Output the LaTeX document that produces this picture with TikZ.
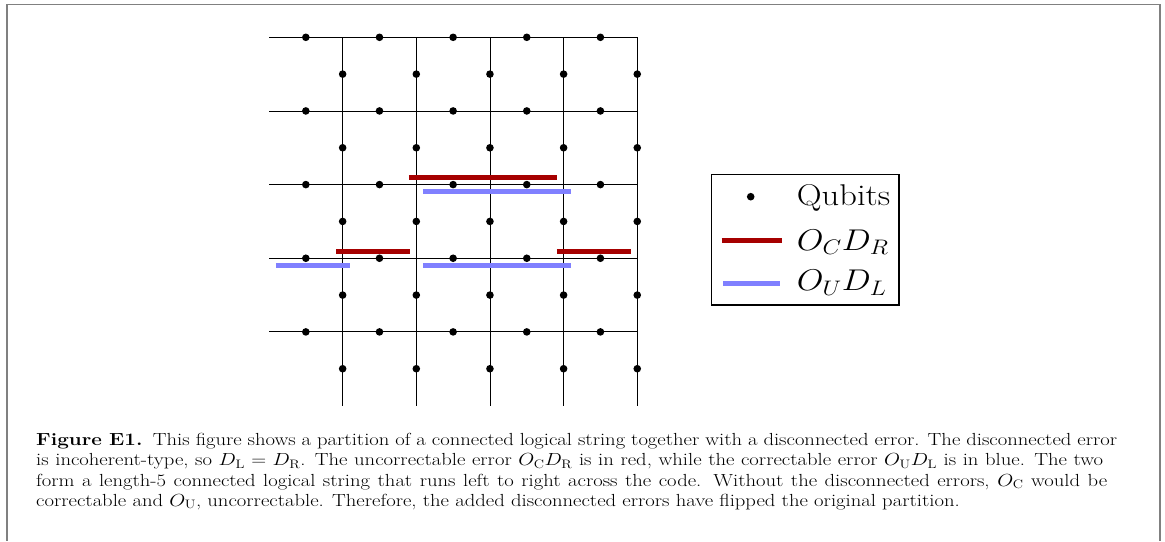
\RequirePackage{fix-cm}
\documentclass[tikz,border=0pt]{standalone}
\definecolor{ocdr}{RGB}{166,0,0}
\definecolor{oudl}{RGB}{128,128,255}
\definecolor{framegray}{RGB}{128,128,128}
\tikzset{
  gridline/.style={line width=0.9pt, black},
  qubit/.style={black},
  redbar/.style={ocdr, line width=5pt, line cap=butt},
  bluebar/.style={oudl, line width=5pt, line cap=butt},
  legendtext/.style={anchor=base west, inner sep=0pt, font=\fontsize{30}{36}\selectfont},
  capline/.style={anchor=base west, inner sep=0pt, font=\fontsize{17.5}{21}\selectfont},
}
\newcommand{\legtxt}[1]{\scalebox{1.15}[1]{#1}}
\newcommand{\capln}[2]{\scalebox{1.18}[1]{\makebox[#1][s]{#2}}}
\newcommand{\caplnnat}[1]{\scalebox{1.18}[1]{#1}}
\begin{document}
\begin{tikzpicture}[x=1pt,y=-1pt]
\useasboundingbox (0,0) rectangle (1165,541);
\fill[white] (0,0) rectangle (1165,541);
% outer frame
\draw[framegray, line width=1.2pt] (6,4.5) -- (1161.3,4.5);
\draw[framegray, line width=2pt] (7,4) -- (7,541);
\draw[framegray, line width=2pt] (1160.3,4) -- (1160.3,541);
% lattice
\begin{scope}[shift={(269,37.3)}, x=73.65pt, y=-73.65pt]
  \foreach \j in {0,...,4} \draw[gridline] (0,\j) -- (5,\j);
  \foreach \k in {1,...,5} \draw[gridline] (\k,0) -- (\k,5);
  \foreach \i in {0,...,4} {
    \foreach \j in {0,...,4} {
      \fill[qubit] (\i+0.5,\j) circle[radius=3.8pt];
      \fill[qubit] (\i+1,\j+0.5) circle[radius=3.8pt];
    }
  }
  % O_C D_R (red)
  \coordinate (r1a) at (1.9,1.905);  \coordinate (r1b) at (3.91,1.905);
  \coordinate (r2a) at (0.91,2.905); \coordinate (r2b) at (1.91,2.905);
  \coordinate (r3a) at (3.91,2.905); \coordinate (r3b) at (4.91,2.905);
  % O_U D_L (blue)
  \coordinate (b1a) at (2.09,2.095); \coordinate (b1b) at (4.1,2.095);
  \coordinate (b2a) at (0.095,3.095); \coordinate (b2b) at (1.1,3.095);
  \coordinate (b3a) at (2.09,3.095); \coordinate (b3b) at (4.1,3.095);
  \draw[redbar] (r1a) -- (r1b);
  \draw[redbar] (r2a) -- (r2b);
  \draw[redbar] (r3a) -- (r3b);
  \draw[bluebar] (b1a) -- (b1b);
  \draw[bluebar] (b2a) -- (b2b);
  \draw[bluebar] (b3a) -- (b3b);
\end{scope}
% legend
\node[draw, line width=1.3pt, minimum width=187.6pt, minimum height=130.3pt, inner sep=0pt, anchor=north west] (legend) at (710.7,174) {};
\fill[qubit] (750.7,196.7) circle[radius=3.8pt];
\coordinate (lra) at (721.7,240);   \coordinate (lrb) at (782.3,240);
\coordinate (lba) at (723.3,283.3); \coordinate (lbb) at (780,283.3);
\draw[redbar] (lra) -- (lrb);
\draw[bluebar] (lba) -- (lbb);
\node[legendtext] (lq) at (796.7,205) {\legtxt{Qubits}};
\node[legendtext] (lr) at (796.7,250) {\legtxt{$O_C D_R$}};
\node[legendtext] (lb) at (796.7,290.5) {\legtxt{$O_U D_L$}};
% caption
\node[capline] (c1) at (36,445.7) {\capln{916.1pt}{\textbf{Figure E1.}\enspace This figure shows a partition of a connected logical string together with a disconnected error. The disconnected error}};
\node[capline] (c2) at (36,465.9) {\capln{904.2pt}{is incoherent-type, so $D_{\mathrm{L}}=D_{\mathrm{R}}$. The uncorrectable error $O_{\mathrm{C}}D_{\mathrm{R}}$ is in red, while the correctable error $O_{\mathrm{U}}D_{\mathrm{L}}$ is in blue. The two}};
\node[capline] (c3) at (36,486.1) {\capln{907.6pt}{form a length-5 connected logical string that runs left to right across the code. Without the disconnected errors, $O_{\mathrm{C}}$ would be}};
\node[capline] (c4) at (36,506.3) {\caplnnat{correctable and $O_{\mathrm{U}}$, uncorrectable. Therefore, the added disconnected errors have flipped the original partition.}};
\end{tikzpicture}
\end{document}
